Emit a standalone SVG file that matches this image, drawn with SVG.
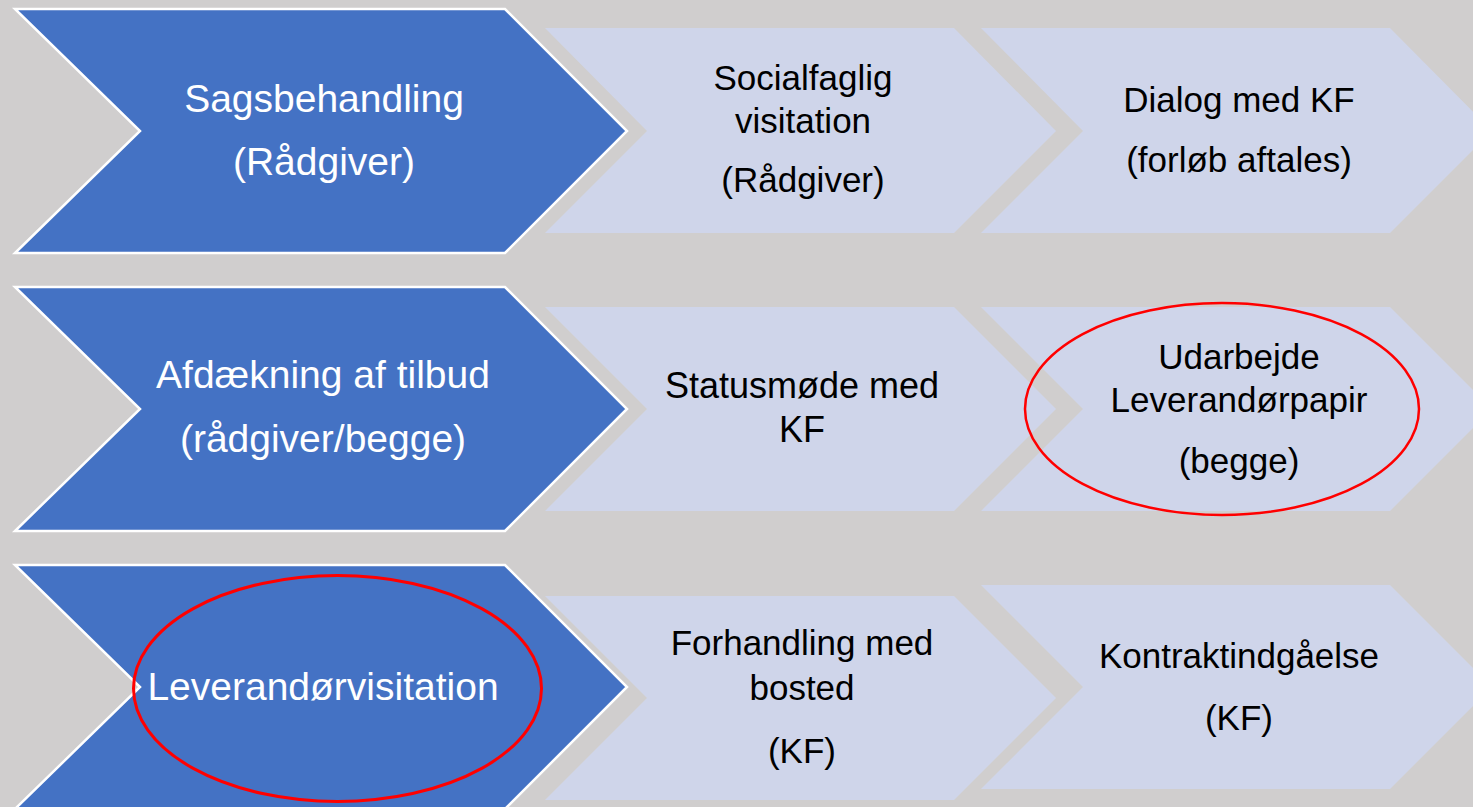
<svg xmlns="http://www.w3.org/2000/svg" width="1473" height="807" viewBox="0 0 1473 807">
<style>
.bg{fill:#d0cece}
.blue{fill:#4472c4;stroke:#ffffff;stroke-width:2.5;stroke-linejoin:miter}
.light{fill:#cfd5ea}
.wt{font-family:"Liberation Sans",Arial,sans-serif;font-size:39px;fill:#ffffff;text-anchor:middle}
.bt{font-family:"Liberation Sans",Arial,sans-serif;font-size:35px;fill:#000000;text-anchor:middle}
.ring{fill:none;stroke:#ff0000;stroke-width:2.5}
</style>
<rect class="bg" x="0" y="0" width="1473" height="807"/>

<g id="row1">
  <g id="n-socialfaglig">
    <polygon class="light" points="545,28 954,28 1056,131 954,233 545,233 647,131"/>
    <text class="bt" x="803" y="90">Socialfaglig</text>
    <text class="bt" x="803" y="133">visitation</text>
    <text class="bt" x="803" y="192">(Rådgiver)</text>
  </g>
  <g id="n-dialog">
    <polygon class="light" points="981,28 1390,28 1492,131 1390,233 981,233 1083,131"/>
    <text class="bt" x="1239" y="112">Dialog med KF</text>
    <text class="bt" x="1239" y="172">(forløb aftales)</text>
  </g>
  <g id="n-sagsbehandling">
    <polygon class="blue" points="15,9 505,9 627,131 505,253 15,253 140,131"/>
    <text class="wt" x="324" y="112">Sagsbehandling</text>
    <text class="wt" x="324" y="175">(Rådgiver)</text>
  </g>
</g>

<g id="row2">
  <g id="n-statusmoede">
    <polygon class="light" points="545,307 954,307 1056,409 954,511 545,511 647,409"/>
    <text class="bt" x="802" y="398" style="font-size:36px">Statusmøde med</text>
    <text class="bt" x="802" y="442" style="font-size:36px">KF</text>
  </g>
  <g id="n-udarbejde">
    <polygon class="light" points="981,307 1390,307 1492,409 1390,511 981,511 1083,409"/>
    <text class="bt" x="1239" y="369">Udarbejde</text>
    <text class="bt" x="1239" y="412">Leverandørpapir</text>
    <text class="bt" x="1239" y="473">(begge)</text>
    <ellipse class="ring" cx="1222" cy="409" rx="197" ry="106"/>
  </g>
  <g id="n-afdaekning">
    <polygon class="blue" points="15,287 505,287 627,409 505,531 15,531 140,409"/>
    <text class="wt" x="323" y="388">Afdækning af tilbud</text>
    <text class="wt" x="323" y="452">(rådgiver/begge)</text>
  </g>
</g>

<g id="row3">
  <g id="n-forhandling">
    <polygon class="light" points="545,596 954,596 1056,698 954,800 545,800 647,698"/>
    <text class="bt" x="802" y="655">Forhandling med</text>
    <text class="bt" x="802" y="700">bosted</text>
    <text class="bt" x="802" y="763">(KF)</text>
  </g>
  <g id="n-kontrakt">
    <polygon class="light" points="981,585 1390,585 1492,687 1390,789 981,789 1083,687"/>
    <text class="bt" x="1239" y="668">Kontraktindgåelse</text>
    <text class="bt" x="1239" y="730">(KF)</text>
  </g>
  <g id="n-leverandoervisitation">
    <polygon class="blue" points="15,565 505,565 627,687 505,809 15,809 140,687"/>
    <text class="wt" x="323" y="700">Leverandørvisitation</text>
    <ellipse class="ring" cx="337.5" cy="688.5" rx="204" ry="113" style="stroke-width:3"/>
  </g>
</g>

<g id="connectors"></g>
</svg>
